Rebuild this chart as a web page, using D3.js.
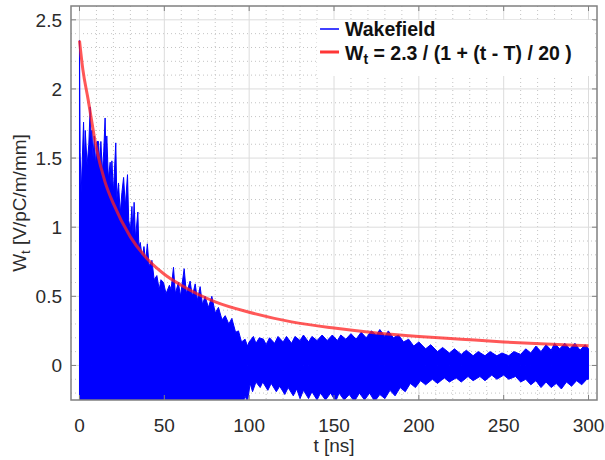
<!DOCTYPE html>
<html>
<head>
<meta charset="utf-8">
<script src="https://cdn.jsdelivr.net/npm/d3@7"></script>
<style>
  body { margin: 0; background: #fff; }
  svg { display: block; font-family: "Liberation Sans", Arial, sans-serif; }
</style>
</head>
<body>
<svg id="chart" width="605" height="460"></svg>
<script>
// Upper envelope of the wakefield signal (t in ns, W in V/pC/m/mm)
const upperTime = [0, 0.4, 1, 2.4, 3, 3.4, 4.5, 5.5, 6.3, 7, 7.3, 8, 8.7, 9.5, 10.3, 11.2, 12, 12.6,
    13.5, 14.3, 15.1, 15.6, 16.1, 17, 18.1, 18.6, 19.1, 20, 21.4, 22, 23, 24, 25, 26, 27, 28.3, 29,
    30, 30.9, 31.5, 32.2, 33, 34.4, 35, 35.8, 37, 38, 39, 40, 41, 42.7, 44, 45.6, 47, 48, 49.5, 51,
    53, 54, 55.4, 56.5, 58.3, 59.5, 61.7, 63, 65.2, 66.5, 68.2, 69.5, 71.1, 72.5, 74, 76, 78, 80,
    81.9, 84, 85.9, 88, 89.8, 92, 93.7, 95.5, 97.6, 99, 100, 102.5, 104, 106, 108.4, 110, 112, 115,
    117, 120, 122, 125, 127, 130, 132, 135, 137, 140, 143, 146, 149, 152, 154, 157, 160, 163, 166,
    169, 172, 175, 177, 180, 182, 185, 188, 191, 194, 197, 200, 204, 207, 211, 214, 218, 221, 225,
    228, 232, 235, 239, 242, 246, 249, 253, 256, 260, 263, 266, 269, 272, 275, 278, 280, 283, 286,
    289, 292, 295, 298, 300];
const upperValue = [2.35, 1.54, 1.25, 1.76, 1.45, 1.70, 1.45, 1.60, 1.87, 1.55, 1.70, 1.50, 1.66,
    1.45, 1.62, 1.62, 1.45, 1.62, 1.40, 1.55, 1.79, 1.50, 1.66, 1.35, 1.47, 1.30, 1.48, 1.25, 1.61,
    1.20, 1.32, 1.10, 1.25, 1.36, 1.15, 1.38, 1.05, 0.98, 1.15, 0.95, 1.18, 0.92, 1.11, 0.85, 0.89,
    0.78, 0.86, 0.75, 0.88, 0.72, 0.76, 0.62, 0.65, 0.55, 0.62, 0.60, 0.52, 0.58, 0.55, 0.71, 0.52,
    0.60, 0.50, 0.70, 0.52, 0.61, 0.50, 0.59, 0.47, 0.57, 0.44, 0.50, 0.42, 0.50, 0.38, 0.42, 0.33,
    0.36, 0.30, 0.34, 0.24, 0.25, 0.17, 0.19, 0.14, 0.17, 0.21, 0.16, 0.20, 0.19, 0.15, 0.20, 0.16,
    0.21, 0.17, 0.21, 0.16, 0.21, 0.18, 0.22, 0.17, 0.21, 0.18, 0.22, 0.18, 0.22, 0.18, 0.22, 0.19,
    0.23, 0.19, 0.24, 0.20, 0.25, 0.22, 0.26, 0.21, 0.25, 0.20, 0.22, 0.17, 0.19, 0.14, 0.17, 0.12,
    0.15, 0.10, 0.13, 0.09, 0.12, 0.08, 0.11, 0.07, 0.10, 0.07, 0.10, 0.07, 0.09, 0.07, 0.10, 0.08,
    0.12, 0.09, 0.14, 0.10, 0.15, 0.11, 0.16, 0.12, 0.16, 0.12, 0.16, 0.11, 0.15, 0.12];

// Lower envelope (below -0.25 it is cut by the axis)
const lowerTime = [0, 96, 97.5, 99, 100.6, 102, 104, 106.5, 108, 111, 113, 116, 118, 121, 123, 126,
    128, 130, 132, 135, 137, 140, 142, 145, 148, 151, 153, 156, 159, 162, 165, 168, 171, 174, 177,
    180, 183, 186, 189, 192, 195, 198, 201, 204, 208, 211, 215, 218, 222, 225, 229, 232, 236, 239,
    243, 246, 250, 253, 257, 260, 263, 266, 269, 272, 275, 278, 281, 284, 287, 290, 293, 296, 299, 300];
const lowerValue = [-0.3, -0.3, -0.22, -0.26, -0.13, -0.19, -0.12, -0.16, -0.12, -0.18, -0.13,
    -0.19, -0.15, -0.21, -0.16, -0.22, -0.17, -0.24, -0.18, -0.24, -0.19, -0.25, -0.20, -0.25, -0.20,
    -0.26, -0.20, -0.25, -0.21, -0.26, -0.20, -0.25, -0.20, -0.26, -0.21, -0.24, -0.18, -0.22, -0.16,
    -0.19, -0.13, -0.16, -0.11, -0.14, -0.10, -0.13, -0.09, -0.12, -0.09, -0.12, -0.08, -0.11, -0.08,
    -0.11, -0.07, -0.10, -0.07, -0.10, -0.08, -0.12, -0.10, -0.14, -0.11, -0.16, -0.12, -0.16, -0.13,
    -0.17, -0.12, -0.15, -0.11, -0.14, -0.10, -0.10];

// Fit curve W_t = 2.3 / (1 + (t - T) / 20)
const fitTime = [0, 2, 5, 10, 15, 20, 30, 40, 50, 60, 80, 100, 125, 150, 175, 200, 225, 250, 275, 300];
const fitValue = [2.35, 2.14, 1.93, 1.57, 1.33, 1.17, 0.93, 0.77, 0.66, 0.58, 0.46, 0.385, 0.315,
    0.27, 0.235, 0.21, 0.19, 0.17, 0.155, 0.143];

const xTicks = [0, 50, 100, 150, 200, 250, 300];
const yTicks = [0, 0.5, 1, 1.5, 2, 2.5];

const margin = { top: 6, left: 71, right: 8, bottom: 60 };
const width = 605 - margin.left - margin.right;
const height = 460 - margin.top - margin.bottom;

const svg = d3.select('#chart');
const plot = svg.append('g').attr('transform', `translate(${margin.left},${margin.top})`);

const x = d3.scaleLinear().domain([-5, 305]).range([0, width]);
const y = d3.scaleLinear().domain([-0.25, 2.6]).range([height, 0]);

svg.append('defs').append('clipPath').attr('id', 'clip')
    .append('rect').attr('width', width).attr('height', height);

// grid: minor dotted, major solid
const minorX = d3.range(0, 301, 10).filter(d => d % 50 !== 0);
const minorY = d3.range(-2, 26).map(d => d / 10).filter(d => Math.round(d * 10) % 5 !== 0);

plot.append('g').selectAll('line').data(minorX).join('line')
    .attr('x1', d => x(d)).attr('x2', d => x(d)).attr('y1', 0).attr('y2', height)
    .attr('stroke', '#c4c4c4').attr('stroke-dasharray', '1,3');
plot.append('g').selectAll('line').data(minorY).join('line')
    .attr('y1', d => y(d)).attr('y2', d => y(d)).attr('x1', 0).attr('x2', width)
    .attr('stroke', '#c4c4c4').attr('stroke-dasharray', '1,3');
plot.append('g').selectAll('line').data(xTicks).join('line')
    .attr('x1', d => x(d)).attr('x2', d => x(d)).attr('y1', 0).attr('y2', height)
    .attr('stroke', '#dcdcdc');
plot.append('g').selectAll('line').data(yTicks).join('line')
    .attr('y1', d => y(d)).attr('y2', d => y(d)).attr('x1', 0).attr('x2', width)
    .attr('stroke', '#dcdcdc');

// wakefield signal, filled between the two envelopes
const data = plot.append('g').attr('clip-path', 'url(#clip)');
const upperArea = d3.area()
    .x(i => x(upperTime[i])).y0(y(0)).y1(i => y(upperValue[i]));
const lowerArea = d3.area()
    .x(i => x(lowerTime[i])).y0(y(0)).y1(i => y(lowerValue[i]));

data.append('path').attr('d', upperArea(d3.range(upperTime.length)))
    .attr('fill', '#0000ff').attr('stroke', '#0000ff').attr('stroke-width', 1);
data.append('path').attr('d', lowerArea(d3.range(lowerTime.length)))
    .attr('fill', '#0000ff').attr('stroke', '#0000ff').attr('stroke-width', 1);

// fit curve
const fitLine = d3.line().curve(d3.curveMonotoneX)
    .x(i => x(fitTime[i])).y(i => y(fitValue[i]));
data.append('path').attr('d', fitLine(d3.range(fitTime.length)))
    .attr('fill', 'none').attr('stroke', '#ff2020').attr('stroke-opacity', 0.75)
    .attr('stroke-width', 3);

// axes box with inward ticks on all sides
const axisColor = '#808080';
const tickLen = 5;
const ax = plot.append('g').attr('stroke', axisColor).attr('stroke-width', 1);
xTicks.forEach((t) => {
    ax.append('line').attr('x1', x(t)).attr('x2', x(t)).attr('y1', height).attr('y2', height - tickLen);
    ax.append('line').attr('x1', x(t)).attr('x2', x(t)).attr('y1', 0).attr('y2', tickLen);
});
yTicks.forEach((v) => {
    ax.append('line').attr('y1', y(v)).attr('y2', y(v)).attr('x1', 0).attr('x2', tickLen);
    ax.append('line').attr('y1', y(v)).attr('y2', y(v)).attr('x1', width).attr('x2', width - tickLen);
});

// legend
const legend = plot.append('g').attr('transform', `translate(${x(140)},0)`);
legend.append('rect').attr('x', 0).attr('y', 14).attr('width', 276).attr('height', 56).attr('fill', '#fff');
legend.append('line').attr('x1', 3).attr('x2', 22).attr('y1', 23).attr('y2', 23)
    .attr('stroke', '#0000ff').attr('stroke-width', 1.5);
legend.append('line').attr('x1', 3).attr('x2', 22).attr('y1', 46).attr('y2', 46)
    .attr('stroke', '#ff2020').attr('stroke-width', 3).attr('stroke-opacity', 0.9);
legend.append('text').attr('x', 28).attr('y', 30)
    .attr('font-size', 19.5).attr('font-weight', 'bold').attr('fill', '#111')
    .text('Wakefield');
const fitLabel = legend.append('text').attr('x', 28).attr('y', 54)
    .attr('font-size', 19.5).attr('font-weight', 'bold').attr('fill', '#111');
fitLabel.append('tspan').text('W');
fitLabel.append('tspan').attr('font-size', 14).attr('dy', 4).text('t');
fitLabel.append('tspan').attr('dy', -4).text(' = 2.3 / (1 + (t - T) / 20 )');

plot.append('rect').attr('width', width).attr('height', height)
    .attr('fill', 'none').attr('stroke', axisColor).attr('stroke-width', 1.5);

// tick labels
plot.append('g').selectAll('text').data(xTicks).join('text')
    .attr('x', d => x(d)).attr('y', height + 32).attr('text-anchor', 'middle')
    .attr('font-size', 19).attr('fill', '#2b2b2b').text(d => d);
plot.append('g').selectAll('text').data(yTicks).join('text')
    .attr('x', -9).attr('y', d => y(d) + 7).attr('text-anchor', 'end')
    .attr('font-size', 19).attr('fill', '#2b2b2b').text(d => d);

// axis titles
plot.append('text').attr('x', width / 2).attr('y', height + 52).attr('text-anchor', 'middle')
    .attr('font-size', 19).attr('fill', '#2b2b2b').text('t [ns]');
const yLabel = svg.append('text')
    .attr('transform', `translate(26,${margin.top + height / 2}) rotate(-90)`)
    .attr('text-anchor', 'middle').attr('font-size', 19).attr('fill', '#2b2b2b');
yLabel.append('tspan').text('W');
yLabel.append('tspan').attr('font-size', 13).attr('dy', 4).text('t');
yLabel.append('tspan').attr('dy', -4).text(' [V/pC/m/mm]');
</script>
</body>
</html>
